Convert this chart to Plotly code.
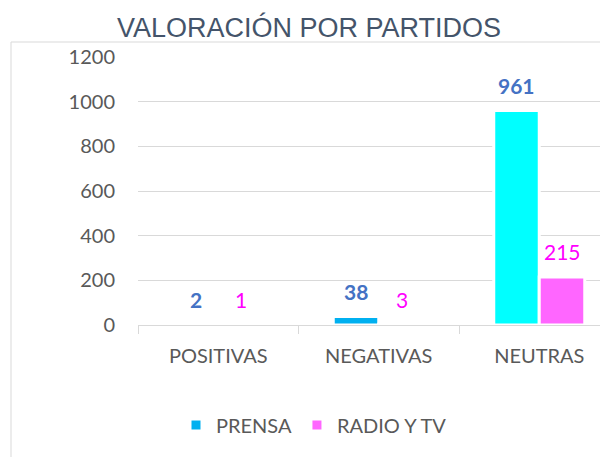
import plotly.graph_objects as go

categories = ["POSITIVAS", "NEGATIVAS", "NEUTRAS"]
prensa = [2, 38, 961]
radio_tv = [1, 3, 215]
series_names = ["PRENSA", "RADIO Y TV"]
prensa_colors = ["#00B0F0", "#00B0F0", "#00FFFF"]
radio_color = "#FF66FF"
y_ticks = [0, 200, 400, 600, 800, 1000, 1200]

FONT = "Lato"
O = 8  # page body offset
W, H = 608 - O, 457 - O
L, R, T, B = 138 - O, 0, 57 - O, 132
pw, ph = W - L - R, H - T - B


def px_x(x):
    return (x - O - L) / pw


def px_y(y):
    return (325 - y) / ph


fig = go.Figure()
fig.add_trace(go.Bar(x=categories, y=prensa, name=series_names[0],
                     marker=dict(color=prensa_colors, line=dict(color="white", width=3))))
fig.add_trace(go.Bar(x=categories, y=radio_tv, name=series_names[1],
                     marker=dict(color=radio_color, line=dict(color="white", width=3))))

for i, c in enumerate(categories):
    fig.add_annotation(x=c, y=prensa[i], text=str(prensa[i]), showarrow=False,
                       xshift=-22.75, yshift=25, yanchor="middle",
                       font=dict(family=FONT, size=21, color="#4472C4", weight="bold"))
    fig.add_annotation(x=c, y=radio_tv[i], text=str(radio_tv[i]), showarrow=False,
                       xshift=22.75, yshift=25, yanchor="middle",
                       font=dict(family=FONT, size=21, color="#FF00FF"))

fig.add_annotation(text="VALORACIÓN POR PARTIDOS", xref="paper", yref="paper",
                   x=px_x(308.5), y=px_y(27),
                   showarrow=False, xanchor="center", yanchor="middle",
                   font=dict(family="Liberation Sans", size=27, color="#44546A"))

fig.add_shape(type="rect", xref="paper", yref="paper",
              x0=px_x(11), x1=1.05, y0=-0.6, y1=px_y(42),
              line=dict(color="#D9D9D9", width=1), fillcolor="rgba(0,0,0,0)", layer="below")

fig.update_layout(
    width=W, height=H, margin=dict(l=L, r=R, t=T, b=B),
    paper_bgcolor="white", plot_bgcolor="white",
    barmode="group", bargap=0.433, bargroupgap=0,
    showlegend=True,
    legend=dict(orientation="h", x=px_x(314), xanchor="center",
                y=px_y(425), yanchor="middle",
                font=dict(family=FONT, size=20, color="#595959"), itemwidth=30),
    xaxis=dict(range=[-0.5, 2.5 - (619.5 - 608) / 160.5], type="category",
               showline=True, linecolor="#D9D9D9", linewidth=1,
               ticks="outside", tickson="boundaries", ticklen=8, tickcolor="#D9D9D9",
               showgrid=False, ticklabelstandoff=13,
               tickfont=dict(family=FONT, size=20, color="#595959")),
    yaxis=dict(range=[0, 1200], tickvals=y_ticks, showgrid=True, gridcolor="#D9D9D9",
               gridwidth=1, zeroline=False, showline=False, ticks="",
               ticklabelstandoff=22,
               tickfont=dict(family=FONT, size=20, color="#595959")),
)

fig.write_html("out.html")
